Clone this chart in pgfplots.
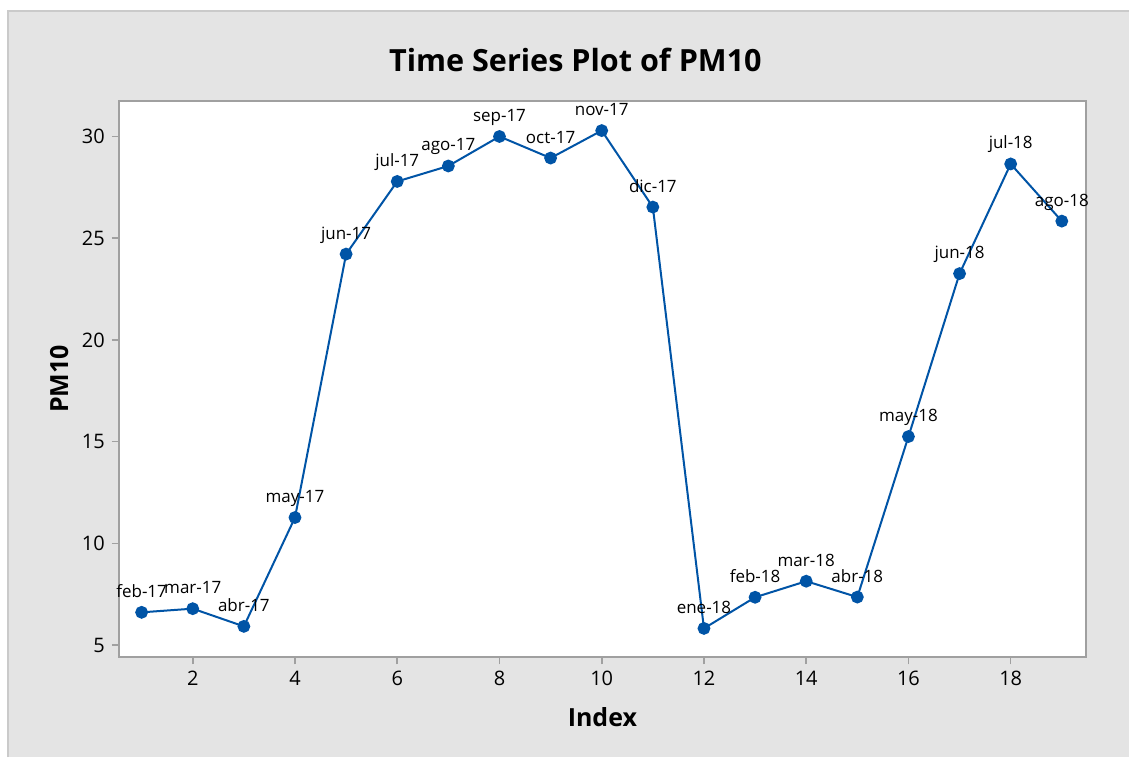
\documentclass[border=0pt]{standalone}
\usepackage{fontspec}
\setmainfont{Open Sans}
\usepackage{pgfplots}
\pgfplotsset{compat=1.18}
\definecolor{bg}{HTML}{E4E4E4}
\definecolor{bordercol}{HTML}{CACACA}
\definecolor{axisgray}{HTML}{A0A0A0}
\definecolor{lineblue}{HTML}{0054A6}
\begin{document}
\begin{tikzpicture}[x=1pt,y=1pt]
\fill[white] (-59.5,-50) rectangle (505.5,329);
\fill[bg] (-55.5,-50) rectangle (505.5,323.5);
\draw[line width=1.2pt, bordercol] (-55.5,-50) -- (-55.5,323.5) -- (505.5,323.5);
\begin{axis}[
  at={(0,0)}, anchor=south west,
  scale only axis, width=484pt, height=278.5pt,
  xmin=0.555, xmax=19.47, ymin=4.40, ymax=31.75,
  axis background/.style={fill=white},
  axis line style={draw=axisgray, line width=1pt},
  tick style={draw=axisgray, line width=0.8pt},
  tick align=outside, major tick length=3.5pt,
  xtick pos=bottom, ytick pos=left,
  xtick={2,4,...,18}, ytick={5,10,...,30},
  ticklabel style={font=\fontsize{10}{12}\selectfont, text=black},
  /pgf/number format/assume math mode=true,
  xlabel={\bfseries Index}, ylabel={\bfseries PM10},
  label style={font=\fontsize{12.5}{14}\selectfont},
  xlabel style={yshift=-4pt},
  clip=false,
]
\addplot[color=lineblue, line width=1pt, mark=*, mark size=2.7pt,
  mark options={fill=lineblue, draw=lineblue},
  nodes near coords, point meta=explicit symbolic,
  every node near coord/.style={font=\fontsize{8.5}{10}\selectfont, text=black, anchor=base, yshift=7.5pt}]
table[meta=label] {
x y label
1 6.61 feb-17
2 6.79 mar-17
3 5.92 abr-17
4 11.27 may-17
5 24.22 jun-17
6 27.79 jul-17
7 28.55 ago-17
8 30.00 sep-17
9 28.94 oct-17
10 30.29 nov-17
11 26.53 dic-17
12 5.82 ene-18
13 7.35 feb-18
14 8.14 mar-18
15 7.36 abr-18
16 15.25 may-18
17 23.26 jun-18
18 28.65 jul-18
19 25.84 ago-18
};
\end{axis}
\node[font=\bfseries\fontsize{15.3}{18}\selectfont] at (228.5,299) {Time Series Plot of PM10};
\end{tikzpicture}
\end{document}
